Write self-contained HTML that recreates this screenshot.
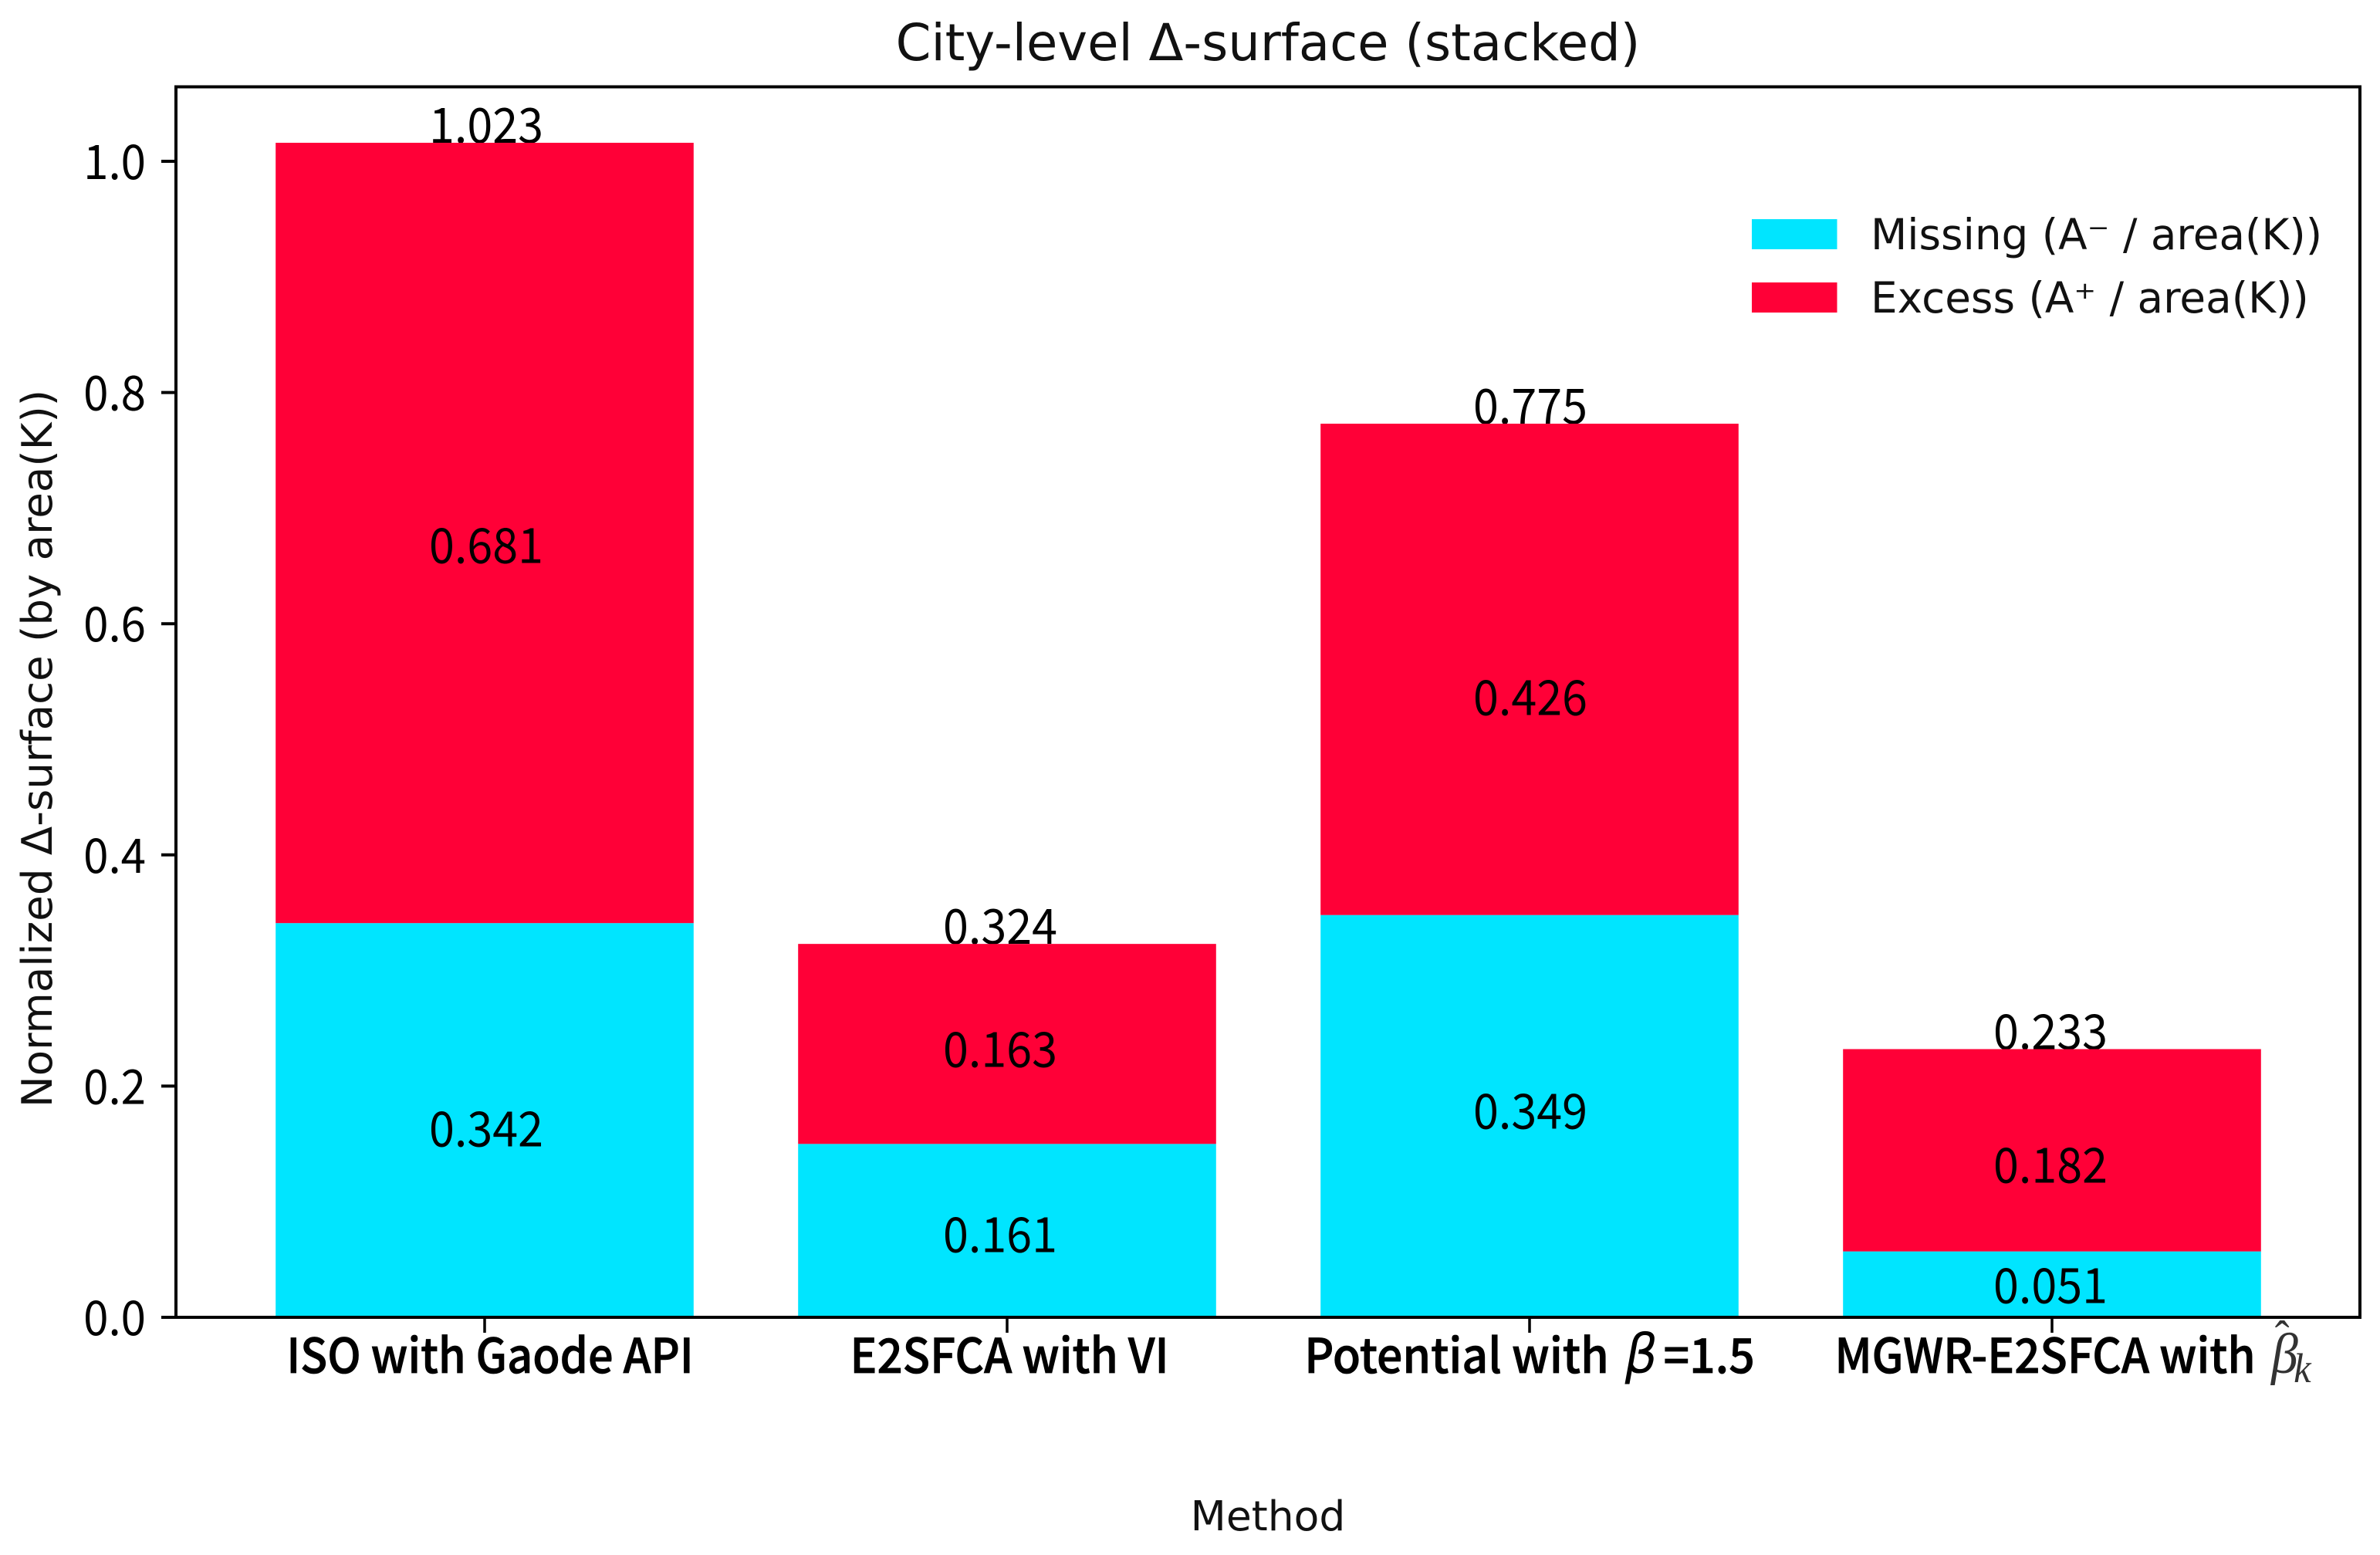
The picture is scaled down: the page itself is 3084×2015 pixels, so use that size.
<!DOCTYPE html>
<html lang="en">
<head>
<meta charset="utf-8">
<title>City-level Δ-surface (stacked)</title>
<style>
html,body{margin:0;padding:0;background:#fff;width:3084px;height:2015px;overflow:hidden}
svg{display:block}
.dj{font-family:"DejaVu Sans","Liberation Sans",sans-serif;fill:#111}
.nt{font-family:"Noto Sans CJK SC","Liberation Sans",sans-serif;fill:#000}
</style>
</head>
<body>
<svg id="chart" xmlns="http://www.w3.org/2000/svg" width="3084" height="2015" viewBox="0 0 3084 2015">
  <rect x="0" y="0" width="3084" height="2015" fill="#fff"/>
  <text class="dj" x="1643" y="78" font-size="65.6" text-anchor="middle">City-level Δ-surface (stacked)</text>
  <g id="totals"></g>
  <g id="bars"></g>
  <g id="segment-labels"></g>
  <rect x="228" y="112.5" width="2830" height="1594.5" fill="none" stroke="#000" stroke-width="4"/>
  <g id="y-axis"></g>
  <g id="x-axis"></g>
  <text class="dj" font-size="54.6" text-anchor="middle" transform="translate(67,970) rotate(-90)">Normalized Δ-surface (by area(K))</text>
  <text class="dj" x="1643" y="1983" font-size="53.5" text-anchor="middle">Method</text>
  <g>
    <rect x="2270" y="284" width="110.5" height="39" fill="#00e5ff"/>
    <text class="dj" x="2424" y="323" font-size="54.8">Missing (A⁻ / area(K))</text>
    <rect x="2270" y="366" width="110.5" height="39" fill="#ff0037"/>
    <text class="dj" x="2424" y="405" font-size="54.8">Excess (A⁺ / area(K))</text>
  </g>
</svg>
<script>
const categories = ['ISO with Gaode API', 'E2SFCA with VI', 'Potential with β=1.5', 'MGWR-E2SFCA with β̂k'];
const missingValues = [0.341, 0.150, 0.348, 0.057];
const excessValues = [0.675, 0.173, 0.425, 0.175];
const missingPrinted = ['0.342', '0.161', '0.349', '0.051'];
const excessPrinted = ['0.681', '0.163', '0.426', '0.182'];
const totalPrinted = ['1.023', '0.324', '0.775', '0.233'];
const yTickValues = [0, 0.2, 0.4, 0.6, 0.8, 1.0];
const yTickLabels = ['0.0', '0.2', '0.4', '0.6', '0.8', '1.0'];

const NS = 'http://www.w3.org/2000/svg';
const CYAN = '#00e5ff';
const RED = '#ff0037';
const xScale = i => 628 + 677 * i;
const bandWidth = 677 * 0.8;
const yScale = v => 1707 - 1498 * v;

function make(parent, tag, attrs, content) {
  const el = document.createElementNS(NS, tag);
  for (const k in attrs) el.setAttribute(k, attrs[k]);
  if (content !== undefined) el.textContent = content;
  parent.appendChild(el);
  return el;
}
function numberText(parent, str, cx, baseline) {
  return make(parent, 'text', {
    'class': 'nt', 'font-size': 63, 'text-anchor': 'middle',
    transform: 'translate(' + cx + ',' + baseline + ') scale(0.94,1)'
  }, str);
}

const gBars = document.getElementById('bars');
const gTotals = document.getElementById('totals');
const gLabels = document.getElementById('segment-labels');
const gY = document.getElementById('y-axis');
const gX = document.getElementById('x-axis');

/* hand-placed look of the printed numbers relative to their anchor */
const missNudgeY = [34, 28, 16, 24];
const excessNudgeY = [39, 30, 59, 42];
const textNudgeX = [2, -9, 1, -2];
const catNudgeX = [7, 3, 0, 27];
const catStretch = [0.93, 0.94, 0.95, 0.94];

categories.forEach(function (cat, i) {
  const cx = xScale(i);
  const left = cx - bandWidth / 2;
  const m = missingValues[i];
  const e = excessValues[i];

  const total = numberText(gTotals, totalPrinted[i], cx + textNudgeX[i], yScale(m + e));
  
  

  const barM = make(gBars, 'rect', { x: left, y: yScale(m), width: bandWidth, height: yScale(0) - yScale(m), fill: CYAN });
  
  

  const barE = make(gBars, 'rect', { x: left, y: yScale(m + e), width: bandWidth, height: yScale(m) - yScale(m + e), fill: RED });
  
  

  const lm = numberText(gLabels, missingPrinted[i], cx + textNudgeX[i], yScale(m / 2) + missNudgeY[i]);
  
  

  const le = numberText(gLabels, excessPrinted[i], cx + textNudgeX[i], yScale(m + e / 2) + excessNudgeY[i]);
  
  

  const tick = make(gX, 'line', { x1: cx, x2: cx, y1: 1707, y2: 1727, stroke: '#000', 'stroke-width': 3.5 });
  
  

  const label = make(gX, 'text', {
    'class': 'nt', 'font-size': 62, 'font-weight': 500, 'text-anchor': 'middle',
    stroke: '#000', 'stroke-width': 0.8,
    transform: 'translate(' + (cx + catNudgeX[i]) + ',1779) scale(' + catStretch[i] + ',1)'
  });
  
  
  const parts = cat.split(/(β̂k|β|=1\.5)/);
  parts.forEach(function (p) {
    if (p === 'β') {
      make(label, 'tspan', { dx: 8, 'font-style': 'italic', 'font-family': '"DejaVu Sans",sans-serif', 'font-weight': 400, 'font-size': 70, stroke: 'none' }, p);
    } else if (p === '=1.5') {
      make(label, 'tspan', { dx: 8 }, p);
    } else if (p === 'β̂k') {
      make(label, 'tspan', { dx: 8, 'font-style': 'italic', 'font-family': '"Liberation Serif",serif', 'font-weight': 400, 'font-size': 74, fill: '#333', stroke: 'none' }, 'β');
      make(label, 'tspan', { dx: -32, dy: -26, 'font-family': '"Liberation Serif",serif', 'font-weight': 400, 'font-size': 60, fill: '#333', stroke: 'none' }, 'ˆ');
      make(label, 'tspan', { dx: 6, dy: 38, 'font-style': 'italic', 'font-family': '"Liberation Serif",serif', 'font-weight': 400, 'font-size': 54, fill: '#333', stroke: 'none' }, 'k');
    } else if (p) {
      make(label, 'tspan', {}, p);
    }
  });
});

yTickValues.forEach(function (v, i) {
  const y = yScale(v);
  const tick = make(gY, 'line', { x1: 209, x2: 228, y1: y, y2: y, stroke: '#000', 'stroke-width': 4 });
  
  
  const label = make(gY, 'text', {
    'class': 'nt', 'font-size': 62, 'text-anchor': 'end',
    transform: 'translate(189,' + (y + 23) + ') scale(0.94,1)'
  }, yTickLabels[i]);
  
  
});
</script>
</body>
</html>
